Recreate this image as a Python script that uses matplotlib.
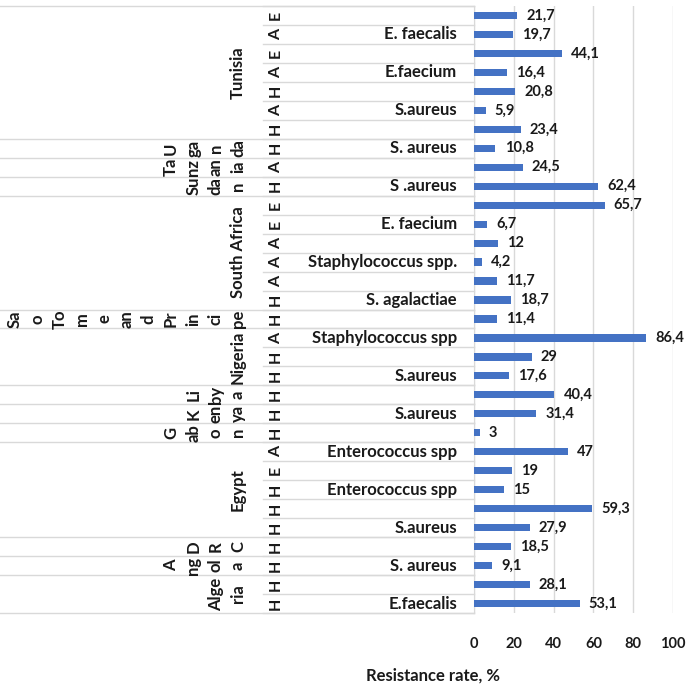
import matplotlib.pyplot as plt
from matplotlib.transforms import blended_transform_factory

plt.rcParams['font.family'] = ['Lato', 'DejaVu Sans']
plt.rcParams['font.weight'] = 'bold'

# one row per bar, top to bottom
values = [21.7, 19.7, 44.1, 16.4, 20.8, 5.9, 23.4,
          10.8, 24.5, 62.4,
          65.7, 6.7, 12, 4.2, 11.7, 18.7,
          11.4,
          86.4, 29, 17.6,
          40.4, 31.4, 3,
          47, 19, 15, 59.3, 27.9,
          18.5, 9.1, 28.1, 53.1]
letters = ['E', 'A', 'E', 'A', 'H', 'A', 'H',
           'H', 'A', 'H',
           'E', 'E', 'A', 'A', 'A', 'H',
           'H',
           'A', 'H', 'H',
           'H', 'H', 'H',
           'A', 'E', 'H', 'H', 'H',
           'H', 'H', 'H', 'H']
species = ['', 'E. faecalis', '', 'E.faecium', '', 'S.aureus', '',
           'S. aureus', '', 'S .aureus',
           '', 'E. faecium', '', 'Staphylococcus spp.', '', 'S. agalactiae',
           '',
           'Staphylococcus spp', '', 'S.aureus',
           '', 'S.aureus', '',
           'Enterococcus spp', '', 'Enterococcus spp', '', 'S.aureus',
           '', 'S. aureus', '', 'E.faecalis']

# country groups: number of rows and the label as it is wrapped in the chart
country_rows = [7, 1, 1, 1, 6, 1, 3, 1, 1, 1, 5, 1, 1, 2]
country_lines = [['Tunisia'],
                 ['U', 'ga', 'n', 'da'],
                 ['Ta', 'nz', 'an', 'ia'],
                 ['Su', 'da', 'n'],
                 ['South Africa'],
                 ['Sa', 'o', 'To', 'm', 'e', 'an', 'd', 'Pr', 'in', 'ci', 'pe'],
                 ['Nigeria'],
                 ['Li', 'by', 'a'],
                 ['K', 'en', 'ya'],
                 ['G', 'ab', 'o', 'n'],
                 ['Egypt'],
                 ['D', 'R', 'C'],
                 ['A', 'ng', 'ol', 'a'],
                 ['Alge', 'ria']]

xticks = [0, 20, 40, 60, 80, 100]

W, H = 688, 686
fig = plt.figure(figsize=(W / 100, H / 100), dpi=100)
ax = fig.add_axes([474 / W, (H - 613) / H, 199 / W, 607 / H])

n = len(values)
rows = list(range(n))
ax.barh(rows, values, height=0.38, color='#4472C4', zorder=3)
ax.set_ylim(n - 0.5, -0.5)
ax.set_xlim(0, 100)

for i, v in enumerate(values):
    txt = str(int(v)) if v == int(v) else str(v).replace('.', ',')
    ax.annotate(txt, (v, i), xytext=(6.5, 0), textcoords='offset points',
                ha='left', va='center', fontsize=10.5, fontweight='bold',
                color='#1a1a1a')

ax.set_xticks(xticks)
ax.set_xticklabels([str(t) for t in xticks], fontsize=10.5, fontweight='bold')
ax.tick_params(axis='x', length=0, pad=17, colors='#1a1a1a')
ax.set_yticks([])
ax.grid(axis='x', color='#d9d9d9', linewidth=1, zorder=0)
for s in ['top', 'right', 'bottom']:
    ax.spines[s].set_visible(False)
ax.spines['left'].set_color('#d9d9d9')

tr = blended_transform_factory(fig.transFigure, ax.transData)
line_col = '#d9d9d9'

# per-row separators over the letter / species columns
for b in range(n + 1):
    ax.plot([263 / W, 474 / W], [b - 0.5, b - 0.5], transform=tr,
            color=line_col, linewidth=1, clip_on=False)

for i in rows:
    ax.text(276 / W, i, letters[i], transform=tr, rotation=90,
            ha='center', va='center', fontsize=11.5, fontweight='bold',
            color='#1a1a1a')
    if species[i]:
        ax.text(457 / W, i, species[i], transform=tr, ha='right',
                va='center', fontsize=12, fontweight='bold',
                color='#1a1a1a')

# country groups with wrapped rotated labels
start = 0
for cnt, lines in zip(country_rows, country_lines):
    ax.plot([0, 474 / W], [start - 0.5, start - 0.5], transform=tr,
            color=line_col, linewidth=1, clip_on=False)
    yc = start + (cnt - 1) / 2
    k = len(lines)
    for j, part in enumerate(lines):
        x = 238 - (k - 1 - j) * 22.3
        ax.text(x / W, yc, part, transform=tr, rotation=90, ha='center',
                va='center', fontsize=12, fontweight='bold',
                color='#1a1a1a')
    start += cnt
ax.plot([0, 474 / W], [n - 0.5, n - 0.5], transform=tr,
        color=line_col, linewidth=1, clip_on=False)

fig.text(433 / W, 1 - 676 / H, 'Resistance rate, %', ha='center',
         va='center', fontsize=12, fontweight='bold', color='#1a1a1a')

fig.savefig('out.png', dpi=100)
